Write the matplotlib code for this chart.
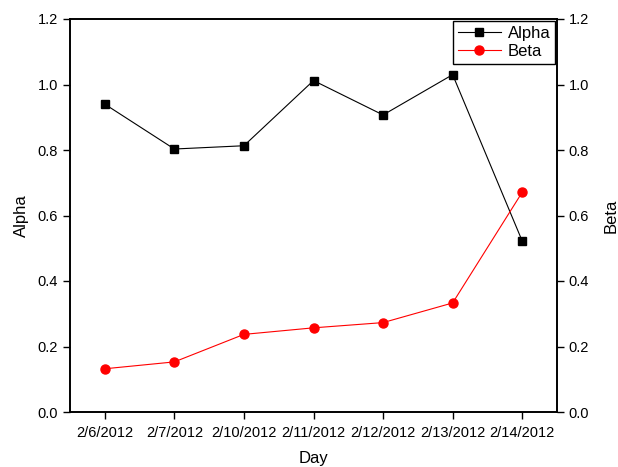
import matplotlib
matplotlib.use('Agg')
import matplotlib.pyplot as plt

plt.rcParams['font.family'] = ['Liberation Sans', 'DejaVu Sans']

days = ['2/6/2012', '2/7/2012', '2/10/2012', '2/11/2012', '2/12/2012', '2/13/2012', '2/14/2012']
alpha = [0.940, 0.803, 0.813, 1.012, 0.907, 1.030, 0.522]
beta = [0.132, 0.153, 0.237, 0.257, 0.273, 0.333, 0.671]

fig = plt.figure(figsize=(6.18, 4.67), dpi=100)
ax = fig.add_axes([70 / 618, 55 / 467, 487 / 618, 393 / 467])
ax2 = ax.twinx()

x = range(len(days))
l1, = ax.plot(x, alpha, color='black', marker='s', markersize=6, linewidth=0.8, label='Alpha')
l2, = ax2.plot(x, beta, color='red', marker='o', markersize=6.5, linewidth=0.8, label='Beta')

ax.set_xlim(-0.5, 6.5)
ax.set_ylim(0, 1.2)
ax2.set_ylim(0, 1.2)
ax.set_xticks(list(x))
ax.set_xticklabels(days)
ax.set_yticks([0, 0.2, 0.4, 0.6, 0.8, 1.0, 1.2])
ax2.set_yticks([0, 0.2, 0.4, 0.6, 0.8, 1.0, 1.2])
ax.yaxis.set_major_formatter(matplotlib.ticker.FormatStrFormatter('%.1f'))
ax2.yaxis.set_major_formatter(matplotlib.ticker.FormatStrFormatter('%.1f'))

for a in (ax, ax2):
    a.tick_params(direction='out', length=5, width=1, labelsize=10.5)
    for s in a.spines.values():
        s.set_linewidth(1.2)
ax.tick_params(axis='x', pad=5)

ax.set_xlabel('Day', fontsize=12, labelpad=8)
ax.set_ylabel('Alpha', fontsize=12, labelpad=6)
ax2.set_ylabel('Beta', fontsize=12, labelpad=10)

leg = ax2.legend([l1, l2], ['Alpha', 'Beta'], loc='upper right', fontsize=12,
                 fancybox=False, edgecolor='black', framealpha=1,
                 borderaxespad=0.1, handlelength=2.6, borderpad=0.3, labelspacing=0.2,
                 handletextpad=0.4)
leg.get_frame().set_linewidth(1)

fig.savefig('out.png', dpi=100)
